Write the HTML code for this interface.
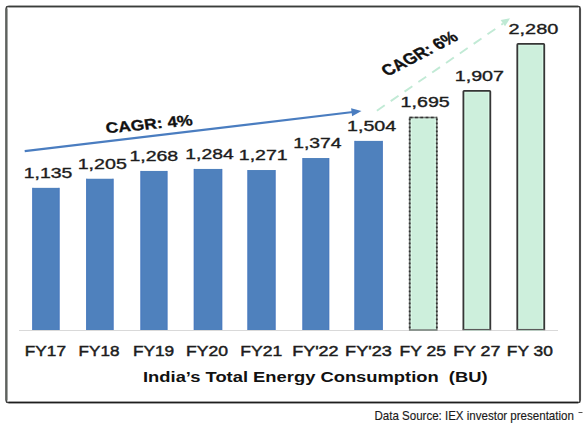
<!DOCTYPE html>
<html><head><meta charset="utf-8"><style>
html,body{margin:0;padding:0;background:#fff;width:586px;height:433px;overflow:hidden}
svg{display:block}
text{font-family:"Liberation Sans",sans-serif;font-size:100px;white-space:pre}
</style></head><body>
<svg width="586" height="433" viewBox="0 0 586 433">
<rect x="6.3" y="6.5" width="573.7" height="396" rx="1.6" fill="none" stroke="#3e3e3e" stroke-width="1.6"/>
<path d="M8.5 6.5H578" stroke="#3a3e3b" stroke-width="1.5"/>
<path d="M8.5 402.5H578" stroke="#1e1e1e" stroke-width="1.6"/>
<path d="M6.4 8.5V400.5" stroke="#5e625e" stroke-width="2.2"/>
<path d="M580 8.5V400.5" stroke="#4e4e4e" stroke-width="2.1"/>
<line x1="19" y1="330.5" x2="558" y2="330.5" stroke="#d9d9d9" stroke-width="1"/>
<rect x="32.33" y="187.85" width="27.17" height="142.15" fill="#4f81bd"/>
<rect x="32.33" y="187.85" width="1" height="142.15" fill="#4a7bbf"/>
<rect x="58.50" y="187.85" width="1" height="142.15" fill="#4a7bbf"/>
<rect x="86.25" y="178.75" width="27.25" height="151.25" fill="#4f81bd"/>
<rect x="86.25" y="178.75" width="1" height="151.25" fill="#4a7bbf"/>
<rect x="112.50" y="178.75" width="1" height="151.25" fill="#4a7bbf"/>
<rect x="140.5" y="170.94" width="26.90" height="159.06" fill="#4f81bd"/>
<rect x="140.5" y="170.94" width="1" height="159.06" fill="#4a7bbf"/>
<rect x="166.40" y="170.94" width="1" height="159.06" fill="#4a7bbf"/>
<rect x="193.8" y="168.94" width="28.40" height="161.06" fill="#4f81bd"/>
<rect x="193.8" y="168.94" width="1" height="161.06" fill="#4a7bbf"/>
<rect x="221.20" y="168.94" width="1" height="161.06" fill="#4a7bbf"/>
<rect x="247.5" y="170.03" width="28.00" height="159.97" fill="#4f81bd"/>
<rect x="247.5" y="170.03" width="1" height="159.97" fill="#4a7bbf"/>
<rect x="274.50" y="170.03" width="1" height="159.97" fill="#4a7bbf"/>
<rect x="302.5" y="158.03" width="26.70" height="171.97" fill="#4f81bd"/>
<rect x="302.5" y="158.03" width="1" height="171.97" fill="#4a7bbf"/>
<rect x="328.20" y="158.03" width="1" height="171.97" fill="#4a7bbf"/>
<rect x="354.5" y="140.9" width="28.20" height="189.10" fill="#4f81bd"/>
<rect x="354.5" y="140.9" width="1" height="189.10" fill="#4a7bbf"/>
<rect x="381.70" y="140.9" width="1" height="189.10" fill="#4a7bbf"/>
<rect x="409.7" y="117.5" width="27.10" height="212.50" fill="#cdefdc"/>
<rect x="411.30" y="118.70" width="23.90" height="211.30" fill="none" stroke="#d8f8e6" stroke-width="1.4"/>
<rect x="409.7" y="117.5" width="27.10" height="212.50" fill="none" stroke="#7a807c" stroke-width="1.6"/>
<path d="M409.7 117.5H436.8" stroke="#333" stroke-width="1.4" stroke-dasharray="2.8 2.5"/>
<path d="M409.7 118.5V330.0M436.8 118.5V330.0" stroke="#333" stroke-width="1.8" stroke-dasharray="1.8 2.2"/>
<rect x="463.4" y="90.8" width="26.90" height="239.20" fill="#cdefdc"/>
<rect x="465.00" y="92.00" width="23.70" height="238.00" fill="none" stroke="#d8f8e6" stroke-width="1.4"/>
<path d="M463.4 329.6V91.6Q463.4 90.8 464.2 90.8H489.5Q490.3 90.8 490.3 91.6V329.6" fill="none" stroke="#363636" stroke-width="1.8"/>
<path d="M462.5 329.6H491.2" stroke="#5a5a5a" stroke-width="1.3"/>
<rect x="517.3" y="43.85" width="26.95" height="286.15" fill="#cdefdc"/>
<rect x="518.90" y="45.05" width="23.75" height="284.95" fill="none" stroke="#d8f8e6" stroke-width="1.4"/>
<path d="M517.3 329.6V44.65Q517.3 43.85 518.0999999999999 43.85H543.45Q544.25 43.85 544.25 44.65V329.6" fill="none" stroke="#363636" stroke-width="1.8"/>
<path d="M516.4 329.6H545.15" stroke="#5a5a5a" stroke-width="1.3"/>
<text transform="matrix(0.19433 0 0 0.14214 23.72 177.50)" font-weight="400" fill="#1c1c1c" stroke="#1c1c1c" stroke-width="2.46">1,135</text>
<text transform="matrix(0.19643 0 0 0.14214 77.70 168.57)" font-weight="400" fill="#1c1c1c" stroke="#1c1c1c" stroke-width="2.46">1,205</text>
<text transform="matrix(0.19517 0 0 0.14214 129.41 160.72)" font-weight="400" fill="#1c1c1c" stroke="#1c1c1c" stroke-width="2.46">1,268</text>
<text transform="matrix(0.19310 0 0 0.14214 185.33 158.72)" font-weight="400" fill="#1c1c1c" stroke="#1c1c1c" stroke-width="2.46">1,284</text>
<text transform="matrix(0.19515 0 0 0.14214 238.81 160.08)" font-weight="400" fill="#1c1c1c" stroke="#1c1c1c" stroke-width="2.46">1,271</text>
<text transform="matrix(0.19351 0 0 0.14214 293.23 147.63)" font-weight="400" fill="#1c1c1c" stroke="#1c1c1c" stroke-width="2.46">1,374</text>
<text transform="matrix(0.19686 0 0 0.14214 347.00 130.92)" font-weight="400" fill="#1c1c1c" stroke="#1c1c1c" stroke-width="2.46">1,504</text>
<text transform="matrix(0.19643 0 0 0.14214 400.60 107.12)" font-weight="400" fill="#1c1c1c" stroke="#1c1c1c" stroke-width="2.46">1,695</text>
<text transform="matrix(0.19726 0 0 0.14214 454.70 80.50)" font-weight="400" fill="#1c1c1c" stroke="#1c1c1c" stroke-width="2.46">1,907</text>
<text transform="matrix(0.19938 0 0 0.14214 508.48 33.67)" font-weight="400" fill="#1c1c1c" stroke="#1c1c1c" stroke-width="2.46">2,280</text>
<text transform="matrix(0.17235 0 0 0.14275 24.85 355.77)" font-weight="400" fill="#1c1c1c" stroke="#1c1c1c" stroke-width="3.15">FY17</text>
<text transform="matrix(0.17115 0 0 0.14275 78.56 355.77)" font-weight="400" fill="#1c1c1c" stroke="#1c1c1c" stroke-width="3.15">FY18</text>
<text transform="matrix(0.17279 0 0 0.14275 132.94 355.77)" font-weight="400" fill="#1c1c1c" stroke="#1c1c1c" stroke-width="3.15">FY19</text>
<text transform="matrix(0.17555 0 0 0.14275 186.12 355.77)" font-weight="400" fill="#1c1c1c" stroke="#1c1c1c" stroke-width="3.15">FY20</text>
<text transform="matrix(0.17588 0 0 0.14275 240.22 355.77)" font-weight="400" fill="#1c1c1c" stroke="#1c1c1c" stroke-width="3.15">FY21</text>
<text transform="matrix(0.17980 0 0 0.14275 292.19 355.77)" font-weight="400" fill="#1c1c1c" stroke="#1c1c1c" stroke-width="3.15">FY&#39;22</text>
<text transform="matrix(0.18150 0 0 0.14275 345.07 355.77)" font-weight="400" fill="#1c1c1c" stroke="#1c1c1c" stroke-width="3.15">FY&#39;23</text>
<text transform="matrix(0.17530 0 0 0.14275 399.52 355.77)" font-weight="400" fill="#1c1c1c" stroke="#1c1c1c" stroke-width="3.15">FY 25</text>
<text transform="matrix(0.17837 0 0 0.14275 453.20 355.77)" font-weight="400" fill="#1c1c1c" stroke="#1c1c1c" stroke-width="3.15">FY 27</text>
<text transform="matrix(0.17372 0 0 0.14275 506.84 355.77)" font-weight="400" fill="#1c1c1c" stroke="#1c1c1c" stroke-width="3.15">FY 30</text>
<text transform="matrix(0.18371 0 0 0.14429 143.01 381.80)" font-weight="700" fill="#111">India’s Total Energy Consumption  (BU)</text>
<line x1="24.7" y1="151.1" x2="353" y2="112" stroke="#4a7dc0" stroke-width="2.2"/>
<polygon points="361.5,111 351.1,108.2 352.1,116.2" fill="#4a7dc0"/>
<line x1="376.9" y1="110.7" x2="503" y2="23.6" stroke="#c1ead5" stroke-width="1.9" stroke-dasharray="9.5 7.3"/>
<polygon points="510.1,18.3 500.6,20.1 505.0,26.3" fill="#bfe9d4"/>
<text transform="translate(149.20 124.00) scale(1.3 1) rotate(-7.0) scale(0.13448 0.15000) translate(-250.50 35.00)" font-weight="700" fill="#111" stroke="#111" stroke-width="2.00">CAGR: 4%</text>
<text transform="translate(419.50 53.50) scale(1.3 1) rotate(-34) scale(0.13387 0.15714) translate(-250.50 35.00)" font-weight="700" fill="#111" stroke="#111" stroke-width="2.23">CAGR: 6%</text>
<text transform="matrix(0.11555 0 0 0.12500 374.45 419.82)" font-weight="400" fill="#1a1a1a" stroke="#1a1a1a" stroke-width="1.20">Data Source: IEX investor presentation</text>
<line x1="578.5" y1="412.5" x2="582.5" y2="412.5" stroke="#555" stroke-width="1"/>
</svg>
</body></html>
